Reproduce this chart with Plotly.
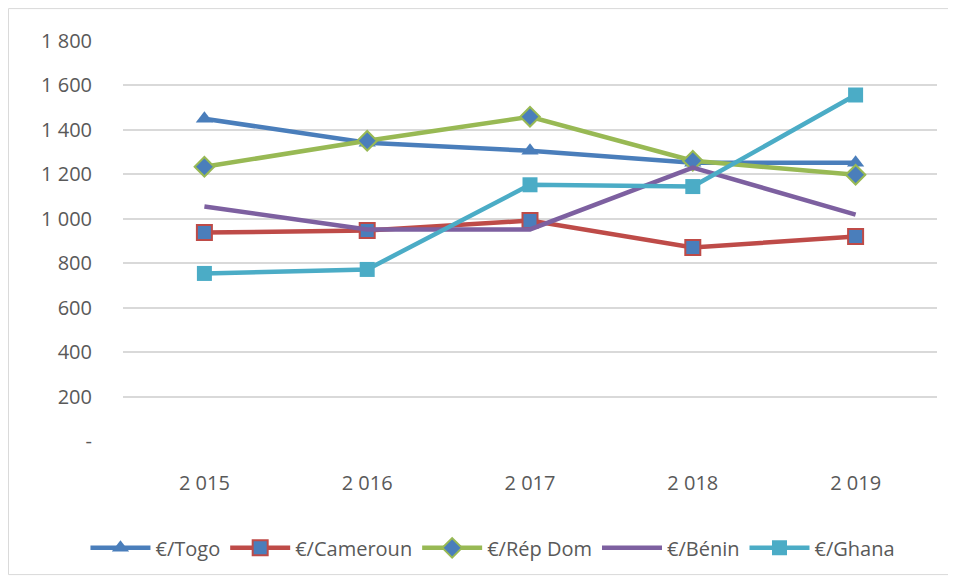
import plotly.graph_objects as go

years = ["2 015", "2 016", "2 017", "2 018", "2 019"]
togo = [1450, 1342, 1306, 1252, 1252]
cameroun = [938, 947, 992, 871, 920]
repdom = [1234, 1351, 1459, 1261, 1198]
benin = [1055, 952, 952, 1230, 1019]
ghana = [754, 772, 1153, 1145, 1557]
y_ticks = [0, 200, 400, 600, 800, 1000, 1200, 1400, 1600, 1800]
y_labels = ["-", "200", "400", "600", "800", "1 000", "1 200", "1 400", "1 600", "1 800"]

BLUE = "#4A7EBB"
RED = "#BE4B48"
GREEN = "#98B954"
PURPLE = "#7D60A0"
CYAN = "#4BACC6"
TXT = "#595959"
LW = 4.5
MS = 15

fig = go.Figure()
fig.add_trace(go.Scatter(x=years, y=togo, name="€/Togo", mode="lines+markers",
                         line=dict(color=BLUE, width=LW),
                         marker=dict(symbol="triangle-up", size=MS, color=BLUE)))
fig.add_trace(go.Scatter(x=years, y=cameroun, name="€/Cameroun", mode="lines+markers",
                         line=dict(color=RED, width=LW),
                         marker=dict(symbol="square", size=MS, color=BLUE, line=dict(color=RED, width=2))))
fig.add_trace(go.Scatter(x=years, y=repdom, name="€/Rép Dom", mode="lines+markers",
                         line=dict(color=GREEN, width=LW),
                         marker=dict(symbol="diamond", size=MS, color=BLUE, line=dict(color=GREEN, width=2))))
fig.add_trace(go.Scatter(x=years, y=benin, name="€/Bénin", mode="lines",
                         line=dict(color=PURPLE, width=LW)))
fig.add_trace(go.Scatter(x=years, y=ghana, name="€/Ghana", mode="lines+markers",
                         line=dict(color=CYAN, width=LW),
                         marker=dict(symbol="square", size=MS, color=CYAN)))

font = dict(family="Open Sans, Liberation Sans, sans-serif", size=20, color=TXT)

fig.update_layout(
    width=948, height=570,
    margin=dict(l=115, r=19, t=33, b=136),
    paper_bgcolor="white", plot_bgcolor="white",
    font=font,
    showlegend=True,
    legend=dict(orientation="h", x=0.4545, xanchor="center", y=-0.264, yanchor="middle",
                font=dict(size=20, color=TXT), itemwidth=60, tracegroupgap=0),
    xaxis=dict(type="category", range=[-0.5, 4.5], showgrid=False, showline=False,
               ticks="", tickfont=dict(size=20, color=TXT), ticklabelstandoff=28),
    yaxis=dict(range=[0, 1800], tickvals=y_ticks, ticktext=y_labels, showgrid=True,
               gridcolor="#D9D9D9", gridwidth=1.5, zeroline=False, showline=False,
               tickfont=dict(size=20, color=TXT), ticklabelstandoff=30),
    shapes=[dict(type="rect", xref="paper", yref="paper",
                 x0=-0.1407, x1=1.016, y0=-0.334, y1=1.081,
                 line=dict(color="#D9D9D9", width=1), fillcolor="rgba(0,0,0,0)", layer="below")],
)
fig.write_html("out.html")
